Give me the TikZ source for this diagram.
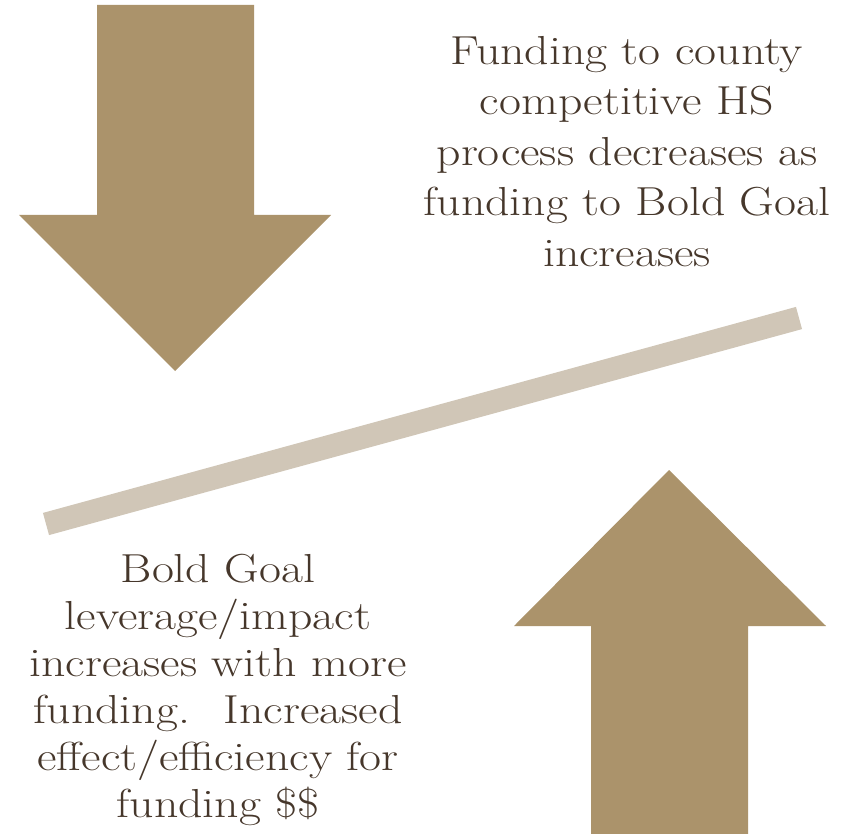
\documentclass[tikz,border=0pt]{standalone}
\usepackage{fontspec}
\setmainfont{Latin Modern Roman}[FakeStretch=1.18]
\definecolor{goldtan}{HTML}{AB936B}
\definecolor{beamgrey}{HTML}{D0C6B7}
\definecolor{inkbrown}{HTML}{46372B}
\begin{document}
\begin{tikzpicture}[x=1pt,y=-1pt,
    bigarrow/.style={fill=goldtan,draw=none},
    beam/.style={draw=beamgrey,line width=23pt},
    caption/.style={text=inkbrown,align=center,inner sep=0pt,anchor=north}]
    \useasboundingbox (0,0) rectangle (853,834);
    % arrow going down
    \fill[bigarrow] (97,5) -- (254,5) -- (254,215) -- (331,215) -- (175,371)
        -- (19,215) -- (97,215) -- cycle;
    % arrow going up
    \fill[bigarrow] (591,834) -- (748,834) -- (748,626) -- (826,626) -- (669,470)
        -- (514,626) -- (591,626) -- cycle;
    % the tilted beam
    \coordinate (beamL) at (46,524);
    \coordinate (beamR) at (799,318);
    \draw[beam] (beamL) -- (beamR);
    \node[caption,font=\fontsize{40.5}{50.5}\selectfont] (hsfunds) at (627,36)
        {Funding to county\\competitive HS\\process decreases as\\funding to Bold Goal\\increases};
    \node[caption,font=\fontsize{40.5}{47}\selectfont] (boldgoal) at (218,554)
        {Bold Goal\\leverage/impact\\increases with more\\funding.~ Increased\\effect/efficiency for\\funding \$\$};
\end{tikzpicture}
\end{document}
